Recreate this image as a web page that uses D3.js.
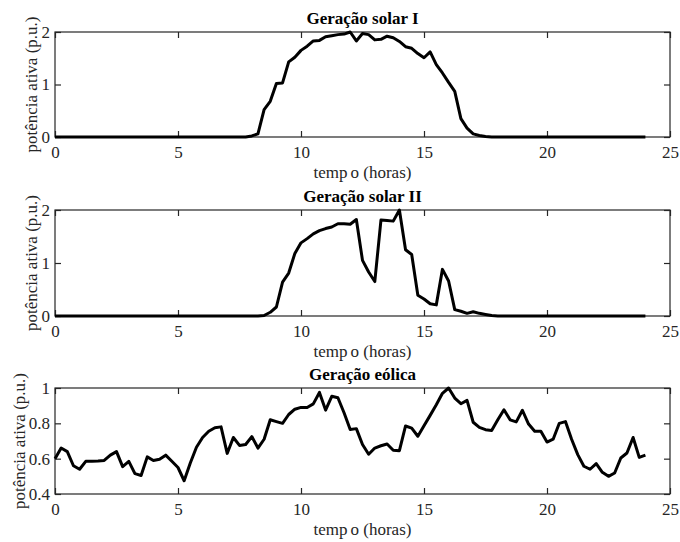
<!DOCTYPE html>
<html>
<head>
<meta charset="utf-8">
<script src="https://cdn.jsdelivr.net/npm/d3@7"></script>
<style>
  body { margin: 0; background: #fff; }
  svg text { font-family: "Liberation Serif", "Times New Roman", serif; }
</style>
</head>
<body>
<div id="chart"></div>
<script>
// dados (passo de 15 min, 0 a 24 h)
const passo = 0.25;
const tempo = d3.range(97).map(i => i * passo);

const solarI = [
  0, 0, 0, 0, 0, 0, 0, 0, 0, 0, 0, 0, 0, 0, 0, 0,
  0, 0, 0, 0, 0, 0, 0, 0, 0, 0, 0, 0, 0, 0, 0,
  0.0, 0.02, 0.06, 0.52, 0.68, 1.02, 1.03, 1.43, 1.52, 1.65, 1.73, 1.83, 1.84,
  1.91, 1.93, 1.95, 1.96, 2.0, 1.83, 1.97, 1.95, 1.85, 1.86, 1.92, 1.89, 1.82,
  1.72, 1.69, 1.59, 1.51, 1.62, 1.38, 1.22, 1.04, 0.87, 0.35, 0.17, 0.06, 0.03,
  0.01, 0.0,
  0, 0, 0, 0, 0, 0, 0, 0, 0, 0, 0, 0, 0, 0, 0, 0, 0, 0, 0, 0, 0, 0, 0, 0, 0
];

const solarII = [
  0, 0, 0, 0, 0, 0, 0, 0, 0, 0, 0, 0, 0, 0, 0, 0, 0,
  0, 0, 0, 0, 0, 0, 0, 0, 0, 0, 0, 0, 0, 0, 0, 0, 0,
  0.01, 0.07, 0.17, 0.64, 0.81, 1.18, 1.38, 1.46, 1.55, 1.61, 1.65, 1.68, 1.74,
  1.74, 1.73, 1.82, 1.05, 0.83, 0.65, 1.81, 1.80, 1.79, 2.0, 1.25, 1.16, 0.39,
  0.32, 0.23, 0.21, 0.88, 0.66, 0.12, 0.09, 0.05, 0.08, 0.05, 0.03, 0.01,
  0, 0, 0, 0, 0, 0, 0, 0, 0, 0, 0, 0, 0, 0, 0, 0, 0, 0, 0, 0, 0, 0, 0, 0, 0
];

const eolica = [
  0.60, 0.66, 0.64, 0.56, 0.54, 0.585, 0.585, 0.587, 0.59, 0.62, 0.64, 0.555,
  0.585, 0.515, 0.505, 0.61, 0.59, 0.597, 0.62, 0.585, 0.55, 0.475, 0.575, 0.665,
  0.72, 0.755, 0.775, 0.78, 0.63, 0.72, 0.675, 0.68, 0.725, 0.66, 0.71, 0.82,
  0.81, 0.80, 0.85, 0.88, 0.89, 0.89, 0.91, 0.975, 0.875, 0.953, 0.945, 0.86,
  0.765, 0.77, 0.68, 0.625, 0.66, 0.673, 0.683, 0.648, 0.645, 0.785, 0.773, 0.727,
  0.787, 0.845, 0.905, 0.97, 1.0, 0.943, 0.911, 0.93, 0.806, 0.777, 0.764, 0.76,
  0.82, 0.877, 0.82, 0.808, 0.874, 0.796, 0.755, 0.755, 0.694, 0.71, 0.80, 0.81,
  0.71, 0.623, 0.557, 0.54, 0.572, 0.523, 0.50, 0.519, 0.604, 0.632, 0.72, 0.607,
  0.62
];

const titulos = ["Geração solar I", "Geração solar II", "Geração eólica"];
const series = [solarI, solarII, eolica];
const xTicks = [0, 5, 10, 15, 20, 25];
const yTicks = [[0, 1, 2], [0, 1, 2], [0.4, 0.6, 0.8, 1]];
const yDominios = [[0, 2], [0, 2], [0.4, 1]];

document.addEventListener("DOMContentLoaded", function () {
  const width = 680, height = 542;
  const left = 55, right = 670;
  const paineis = [[32, 137], [210, 316], [388, 494]];
  const yLabelX = [36.5, 36.5, 24.5];
  const axisColor = "#262626";

  const svg = d3.select("#chart")
                .append("svg")
                .attr("width", width)
                .attr("height", height);

  const x = d3.scaleLinear().domain([0, 25]).range([left, right]);

  paineis.forEach(function (p, k) {
    const top = p[0], bottom = p[1];
    const y = d3.scaleLinear().domain(yDominios[k]).range([bottom, top]);
    const g = svg.append("g");

    // caixa
    g.append("rect")
     .attr("x", left).attr("y", top)
     .attr("width", right - left).attr("height", bottom - top)
     .attr("fill", "none")
     .attr("stroke", axisColor)
     .attr("stroke-width", 1.2);

    const fmt = d => String(d);

    const eixoX = g.append("g")
                   .attr("transform", `translate(0,${bottom})`)
                   .call(d3.axisBottom(x).tickValues(xTicks).tickFormat(fmt)
                           .tickSize(-6).tickPadding(9));
    const eixoXTopo = g.append("g")
                       .attr("transform", `translate(0,${top})`)
                       .call(d3.axisTop(x).tickValues(xTicks).tickFormat("")
                               .tickSize(-6));
    const eixoY = g.append("g")
                   .attr("transform", `translate(${left},0)`)
                   .call(d3.axisLeft(y).tickValues(yTicks[k]).tickFormat(fmt)
                           .tickSize(-6).tickPadding(5));
    const eixoYDir = g.append("g")
                      .attr("transform", `translate(${right},0)`)
                      .call(d3.axisRight(y).tickValues(yTicks[k]).tickFormat("")
                              .tickSize(-6));

    [eixoX, eixoXTopo, eixoY, eixoYDir].forEach(function (a) {
      a.select(".domain").remove();
      a.selectAll(".tick line").attr("stroke", axisColor).attr("stroke-width", 1.2);
      a.selectAll(".tick text")
       .attr("fill", axisColor)
       .style("font-size", "17px")
       .style("font-family", '"Liberation Serif", "Times New Roman", serif');
    });

    // curva
    const linha = d3.line()
                    .x((d, i) => x(tempo[i]))
                    .y(d => y(d));
    g.append("path")
     .datum(series[k])
     .attr("d", linha)
     .attr("fill", "none")
     .attr("stroke", "#000")
     .attr("stroke-width", 3)
     .attr("stroke-linejoin", "round");

    // título
    g.append("text")
     .attr("x", (left + right) / 2)
     .attr("y", top - 8)
     .attr("text-anchor", "middle")
     .style("font-size", "17px")
     .style("font-weight", "bold")
     .attr("fill", "#000")
     .text(titulos[k]);

    // rótulo do eixo x
    const xl = g.append("text")
                .attr("x", (left + right) / 2)
                .attr("y", bottom + 41)
                .attr("text-anchor", "middle")
                .style("font-size", "17px")
                .attr("fill", axisColor);
    xl.append("tspan").text("temp");
    xl.append("tspan").attr("dx", 3).text("o (horas)");

    // rótulo do eixo y
    g.append("text")
     .attr("transform", `translate(${yLabelX[k]},${(top + bottom) / 2}) rotate(-90)`)
     .attr("text-anchor", "middle")
     .style("font-size", "17px")
     .attr("fill", axisColor)
     .text("potência ativa (p.u.)");
  });
});
</script>
</body>
</html>
